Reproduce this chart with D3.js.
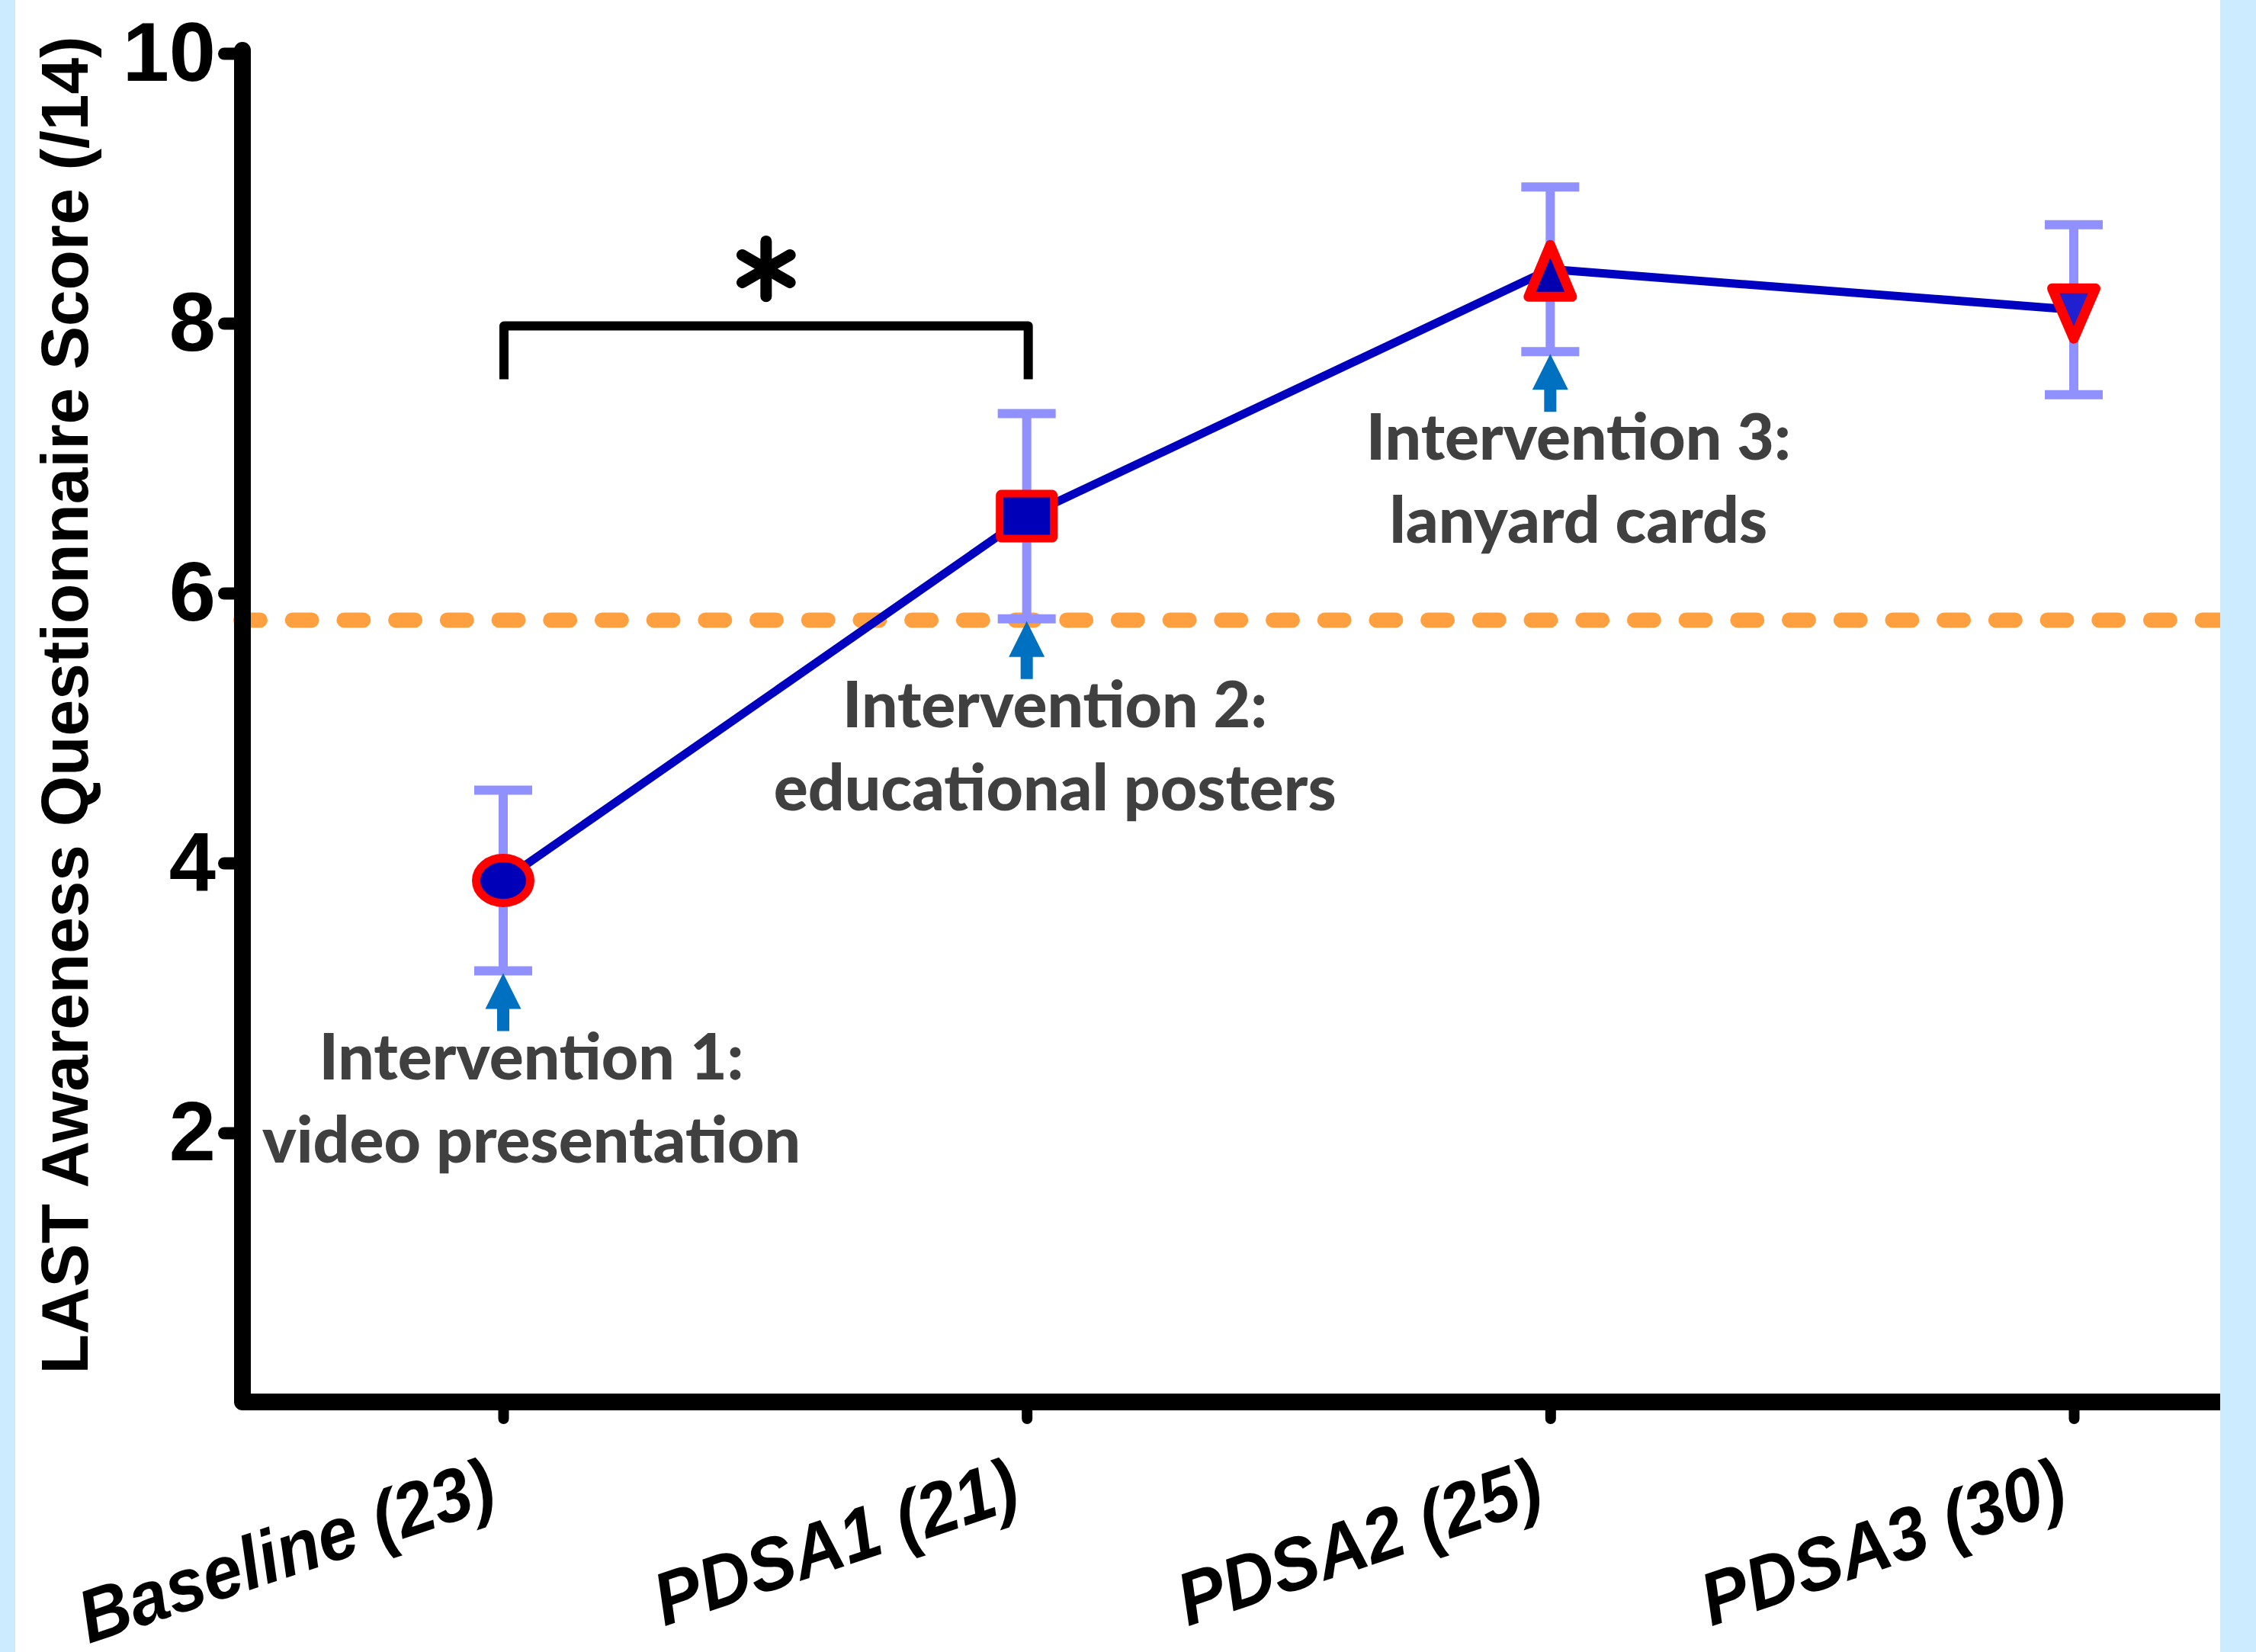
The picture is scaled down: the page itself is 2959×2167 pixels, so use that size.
<!DOCTYPE html>
<html>
<head>
<meta charset="utf-8">
<script src="https://cdn.jsdelivr.net/npm/d3@7"></script>
<style>
  body { margin: 0; background: #fff; }
  svg { display: block; }
</style>
</head>
<body>
<div id="chart"></div>
<script>
// Values
const categories = ['Baseline (23)', 'PDSA1 (21)', 'PDSA2 (25)', 'PDSA3 (30)'];
const meanScores = [3.87, 6.57, 8.40, 8.10];
const errScores = [0.67, 0.76, 0.61, 0.63];
const markerShapes = ['circle', 'square', 'triangle', 'triangleDown'];
const yTicks = [2, 4, 6, 8, 10];
const targetScore = 5.8;
const sigPair = ['Baseline (23)', 'PDSA1 (21)'];
const sigLevel = 7.98;
const interventionAt = ['Baseline (23)', 'PDSA1 (21)', 'PDSA2 (25)'];
const interventionText = [
    ['Intervention 1:', 'video presentation'],
    ['Intervention 2:', 'educational posters'],
    ['Intervention 3:', 'lanyard cards']
];
const yLabel = 'LAST Awareness Questionnaire Score (/14)';

const width = 2959;
const height = 2167;

const rows = categories.map((c, i) => ({
    cat: c, mean: meanScores[i], err: errScores[i], shape: markerShapes[i]
}));

const svg = d3.select('#chart')
    .append('svg')
    .attr('width', width)
    .attr('height', height);

svg.append('rect')
    .attr('width', width)
    .attr('height', height)
    .attr('fill', '#fff');

// Scales
const x = d3.scalePoint()
    .domain(categories)
    .range([660, 2720]);

const y = d3.scaleLinear()
    .domain([0, 10])
    .range([1840, 70]);

const axisX = 318;       // centre of the thick y axis line
const plotRight = 2912;  // where the right band starts

// Target (dashed orange) line
svg.append('line')
    .attr('x1', 316)
    .attr('x2', plotRight)
    .attr('y1', y(targetScore))
    .attr('y2', y(targetScore))
    .style('stroke', '#FFA040')
    .style('stroke-width', 20)
    .style('stroke-linecap', 'round')
    .style('stroke-dasharray', '25 42.7');

// Significance bracket + star
const bx0 = x(sigPair[0]) + 1;
const bx1 = x(sigPair[1]) + 2;
const by = y(sigLevel);
svg.append('path')
    .attr('d', `M${bx0},${by + 70}V${by}H${bx1}V${by + 70}`)
    .style('fill', 'none')
    .style('stroke', '#000')
    .style('stroke-width', 12)
    .style('stroke-linejoin', 'round');

svg.append('path')
    .attr('transform', `translate(${(bx0 + bx1) / 2},${by - 75})`)
    .attr('d', d3.symbol(d3.symbolAsterisk, 3700)())
    .style('fill', 'none')
    .style('stroke', '#000')
    .style('stroke-width', 15)
    .style('stroke-linecap', 'round');

// Error bars
const errG = svg.append('g')
    .style('stroke', '#9090FF')
    .style('stroke-width', 12);

rows.forEach(d => {
    const cx = x(d.cat);
    errG.append('line')
        .attr('x1', cx).attr('x2', cx)
        .attr('y1', y(d.mean + d.err)).attr('y2', y(d.mean - d.err));
    [d.mean + d.err, d.mean - d.err].forEach(v => {
        errG.append('line')
            .attr('x1', cx - 38).attr('x2', cx + 38)
            .attr('y1', y(v)).attr('y2', y(v));
    });
});

// Mean line
const line = d3.line()
    .x(d => x(d.cat))
    .y(d => y(d.mean));

svg.append('path')
    .datum(rows)
    .attr('d', line)
    .style('fill', 'none')
    .style('stroke', '#0000C0')
    .style('stroke-width', 11);

// Markers
const markerG = svg.append('g')
    .style('stroke', '#FF0000')
    .style('stroke-linejoin', 'round');

rows.forEach(d => {
    const g = markerG.append('g')
        .attr('transform', `translate(${x(d.cat)},${y(d.mean)})`);
    if (d.shape === 'circle') {
        g.append('ellipse')
            .attr('rx', 35.5).attr('ry', 29.5)
            .style('fill', '#0000B8')
            .style('stroke-width', 11);
    } else if (d.shape === 'square') {
        g.append('rect')
            .attr('x', -35.5).attr('y', -29.5)
            .attr('width', 71).attr('height', 59)
            .attr('rx', 2)
            .style('fill', '#0000B8')
            .style('stroke-width', 10);
    } else if (d.shape === 'triangle') {
        g.append('path')
            .attr('d', 'M0,-32L28.5,36L-28.5,36Z')
            .style('fill', '#0000B0')
            .style('stroke-width', 13);
    } else {
        g.append('path')
            .attr('d', 'M-28.5,-28L28.5,-28L0,38Z')
            .style('fill', '#2020D0')
            .style('stroke-width', 13);
    }
});

// Intervention arrows and labels
interventionAt.forEach((c, i) => {
    const d = rows.find(r => r.cat === c);
    const cx = x(c);
    const tip = y(d.mean - d.err) + 3;

    svg.append('path')
        .attr('transform', `translate(${cx},${tip})`)
        .attr('d', 'M0,0L23.5,47L8,47L8,76L-8,76L-8,47L-23.5,47Z')
        .style('fill', '#0070C0');

    const t = svg.append('text')
        .attr('x', cx + 37)
        .attr('y', tip + 139)
        .attr('text-anchor', 'middle')
        .style('font-family', 'Lato, "Open Sans", sans-serif')
        .style('font-weight', 900)
        .style('font-size', '84px')
        .style('fill', '#404040');

    interventionText[i].forEach((s, k) => {
        t.append('tspan')
            .attr('x', cx + 37)
            .attr('dy', k === 0 ? 0 : 109)
            .text(s);
    });
});

// Axes
const yAxis = d3.axisLeft(y)
    .tickValues(yTicks)
    .tickSize(24)
    .tickSizeOuter(0)
    .tickPadding(11)
    .tickFormat(d3.format('d'));

const yg = svg.append('g')
    .attr('transform', `translate(${axisX},0)`)
    .call(yAxis);

yg.select('.domain').remove();
yg.selectAll('.tick line')
    .style('stroke', '#000')
    .style('stroke-width', 16)
    .style('stroke-linecap', 'round');
yg.selectAll('.tick text')
    .style('font-family', '"Liberation Sans", Arial, sans-serif')
    .style('font-weight', 'bold')
    .style('font-size', '110px')
    .style('fill', '#000');

const xAxis = d3.axisBottom(x)
    .tickSize(22)
    .tickSizeOuter(0)
    .tickPadding(0);

const xg = svg.append('g')
    .attr('transform', `translate(0,${y(0) - 1})`)
    .call(xAxis);

xg.select('.domain').remove();
xg.selectAll('.tick line')
    .style('stroke', '#000')
    .style('stroke-width', 14)
    .style('stroke-linecap', 'round');
xg.selectAll('.tick text')
    .attr('x', null)
    .attr('y', null)
    .attr('dy', null)
    .attr('text-anchor', 'end')
    .attr('transform', 'translate(-5,137) rotate(-18.5)')
    .style('font-family', '"Liberation Sans", Arial, sans-serif')
    .style('font-weight', 'bold')
    .style('font-style', 'italic')
    .style('font-size', '98px')
    .style('fill', '#000')
    .each(function () {
        // the original face is a little narrower than Arial
        const w = this.getComputedTextLength();
        d3.select(this)
            .attr('textLength', w * 0.94)
            .attr('lengthAdjust', 'spacingAndGlyphs');
    });

// Thick axis lines meeting at a rounded corner
svg.append('path')
    .attr('d', `M${axisX},${y(10) - 4}V${y(0) - 1}H${plotRight}`)
    .style('fill', 'none')
    .style('stroke', '#000')
    .style('stroke-width', 22)
    .style('stroke-linejoin', 'round')
    .style('stroke-linecap', 'round');

// Y axis title
svg.append('text')
    .attr('transform', `translate(115,925) rotate(-90)`)
    .attr('text-anchor', 'middle')
    .attr('textLength', 1755)
    .attr('lengthAdjust', 'spacingAndGlyphs')
    .style('font-family', '"Liberation Sans", Arial, sans-serif')
    .style('font-weight', 'bold')
    .style('font-size', '88px')
    .style('fill', '#000')
    .text(yLabel);

// Light blue side bands
svg.append('rect')
    .attr('x', 0).attr('y', 0)
    .attr('width', 20).attr('height', height)
    .attr('fill', '#CCEBFF');
svg.append('rect')
    .attr('x', plotRight).attr('y', 0)
    .attr('width', width - plotRight).attr('height', height)
    .attr('fill', '#CCEBFF');
</script>
</body>
</html>
